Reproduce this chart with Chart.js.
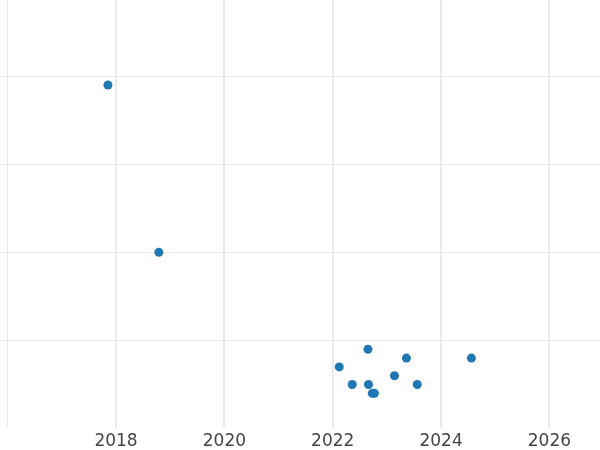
<!DOCTYPE html>
<html>
<head>
<meta charset="utf-8">
<script src="https://cdn.jsdelivr.net/npm/chart.js@4"></script>
<style>
html,body{margin:0;padding:0;background:#fff;}
#wrap{width:600px;height:450px;}
</style>
</head>
<body>
<div id="wrap"><canvas id="c" width="600" height="450"></canvas></div>
<script>
const xYears = [2017.85, 2018.79, 2022.12, 2022.36, 2022.65, 2022.66, 2022.73, 2022.77, 2023.14, 2023.36, 2023.56, 2024.56];
const yValues = [39, 20, 7, 5, 9, 5, 4, 4, 6, 8, 5, 8];
const xTickValues = [2016, 2018, 2020, 2022, 2024, 2026];
const yTickValues = [10, 20, 30, 40];

const points = xYears.map((x, i) => ({x: x, y: yValues[i]}));

new Chart(document.getElementById('c'), {
  type: 'scatter',
  data: {
    datasets: [{
      data: points,
      backgroundColor: '#1f77b4',
      borderColor: '#1f77b4',
      borderWidth: 0,
      pointRadius: 4.5,
      pointHoverRadius: 4.5
    }]
  },
  options: {
    responsive: false,
    animation: false,
    events: [],
    layout: {padding: {left: 0, right: 0, top: 0, bottom: -6}, autoPadding: false},
    plugins: {legend: {display: false}, tooltip: {enabled: false}},
    scales: {
      x: {
        type: 'linear',
        min: 2015.858,
        max: 2026.934,
        afterBuildTicks: (s) => { s.ticks = xTickValues.map(v => ({value: v})); },
        ticks: {
          autoSkip: false,
          maxRotation: 0,
          padding: 4,
          color: '#444',
          font: {family: 'DejaVu Sans', size: 17},
          callback: (v) => (v === 2016 ? '' : String(v))
        },
        grid: {
          color: '#ebebeb',
          lineWidth: (ctx) => (ctx.tick && ctx.tick.value === 2016 ? 1 : 2),
          drawTicks: false
        },
        border: {display: false}
      },
      y: {
        type: 'linear',
        min: 0.114,
        max: 48.64,
        afterBuildTicks: (s) => { s.ticks = yTickValues.map(v => ({value: v})); },
        ticks: {display: false},
        grid: {
          color: '#ebebeb',
          lineWidth: 1,
          drawTicks: false
        },
        border: {display: false}
      }
    }
  }
});
</script>
</body>
</html>
